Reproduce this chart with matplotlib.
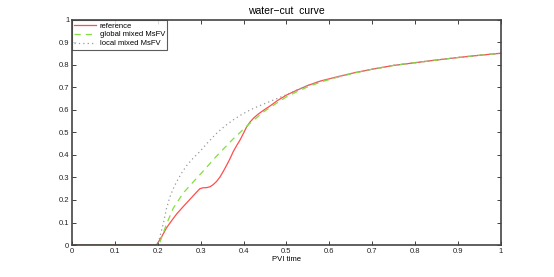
import matplotlib
matplotlib.use("Agg")
import matplotlib.pyplot as plt

# --- data ---
ref_t = [0, 0.197, 0.21, 0.221, 0.233, 0.244, 0.26, 0.275, 0.29, 0.298, 0.305, 0.314, 0.322,
         0.329, 0.337, 0.345, 0.353, 0.361, 0.369, 0.376, 0.384, 0.392, 0.4, 0.407, 0.415,
         0.423, 0.43, 0.438, 0.45, 0.462, 0.48, 0.5, 0.52, 0.55, 0.58, 0.62, 0.66, 0.7,
         0.75, 0.8, 0.85, 0.9, 0.95, 1.0]
ref_v = [0, 0, 0.040, 0.078, 0.110, 0.138, 0.172, 0.203, 0.234, 0.250, 0.254, 0.255, 0.259,
         0.268, 0.282, 0.302, 0.328, 0.356, 0.386, 0.415, 0.442, 0.467, 0.497, 0.524, 0.546,
         0.563, 0.575, 0.587, 0.603, 0.618, 0.643, 0.666, 0.684, 0.709, 0.729, 0.748, 0.766, 0.781,
         0.798, 0.810, 0.822, 0.833, 0.843, 0.852]

glob_t = [0, 0.203, 0.212, 0.221, 0.236, 0.259, 0.283, 0.298, 0.31, 0.337, 0.376, 0.415,
          0.43, 0.45, 0.48, 0.5, 0.52, 0.55, 0.58, 0.62, 0.66, 0.7, 0.75, 0.8, 0.85, 0.9,
          0.95, 1.0]
glob_v = [0, 0, 0.05, 0.096, 0.163, 0.23, 0.281, 0.312, 0.337, 0.395, 0.472, 0.541,
          0.565, 0.596, 0.634, 0.658, 0.677, 0.703, 0.724, 0.746, 0.765, 0.781, 0.798, 0.810,
          0.822, 0.833, 0.843, 0.852]

loc_t = [0, 0.2, 0.206, 0.213, 0.22, 0.228, 0.236, 0.244, 0.255, 0.267, 0.283, 0.298, 0.315,
         0.337, 0.356, 0.376, 0.395, 0.415, 0.434, 0.454, 0.48, 0.5, 0.52, 0.55, 0.58, 0.62,
         0.66, 0.7, 0.75, 0.8, 0.85, 0.9, 0.95, 1.0]
loc_v = [0, 0, 0.045, 0.096, 0.16, 0.212, 0.25, 0.281, 0.318, 0.352, 0.387, 0.415, 0.452,
         0.496, 0.528, 0.556, 0.579, 0.600, 0.616, 0.632, 0.652, 0.668, 0.685, 0.709, 0.729,
         0.748, 0.766, 0.781, 0.798, 0.810, 0.822, 0.833, 0.843, 0.852]

labels = ["reference", "global mixed MsFV", "local mixed MsFV"]
xticks = [0, 0.1, 0.2, 0.3, 0.4, 0.5, 0.6, 0.7, 0.8, 0.9, 1]
yticks = [0, 0.1, 0.2, 0.3, 0.4, 0.5, 0.6, 0.7, 0.8, 0.9, 1]
xtick_labels = ["0", "0.1", "0.2", "0.3", "0.4", "0.5", "0.6", "0.7", "0.8", "0.9", "1"]
ytick_labels = ["0", "0.1", "0.2", "0.3", "0.4", "0.5", "0.6", "0.7", "0.8", "0.9", "1"]

plt.rcParams['font.family'] = ['Liberation Sans', 'DejaVu Sans']

fig = plt.figure(figsize=(5.54, 2.77), dpi=100)
ax = fig.add_axes([0.130, 0.1155, 0.774, 0.8125])

ax.plot(ref_t, ref_v, color='#ff4d4d', lw=0.9, label=labels[0])
ax.plot(glob_t, glob_v, color='#80e040', lw=0.9, ls=(0, (5, 4)), label=labels[1])
ax.plot(loc_t, loc_v, color='#999999', lw=0.9, ls=(0, (1, 2.5)), label=labels[2])

ax.set_xlim(0, 1)
ax.set_ylim(0, 1)
ax.set_xticks(xticks)
ax.set_xticklabels(xtick_labels)
ax.set_yticks(yticks)
ax.set_yticklabels(ytick_labels)
ax.tick_params(direction='in', length=3, width=0.6, labelsize=5.5, top=True, right=True,
               colors='#222222', pad=2)
for s in ax.spines.values():
    s.set_linewidth(1.2)
    s.set_color('#444444')

ax.set_title('water\u2212cut  curve', fontsize=7.5, pad=4)
ax.set_xlabel('PVI time', fontsize=5.5, labelpad=1)

leg = ax.legend(loc='upper left', fontsize=5.5, borderaxespad=0, frameon=True,
                fancybox=False, edgecolor='#333333', handlelength=2.8,
                borderpad=0.3, labelspacing=0.2, handletextpad=0.5)
leg.get_frame().set_linewidth(0.8)

fig.savefig('out.png', dpi=100)
